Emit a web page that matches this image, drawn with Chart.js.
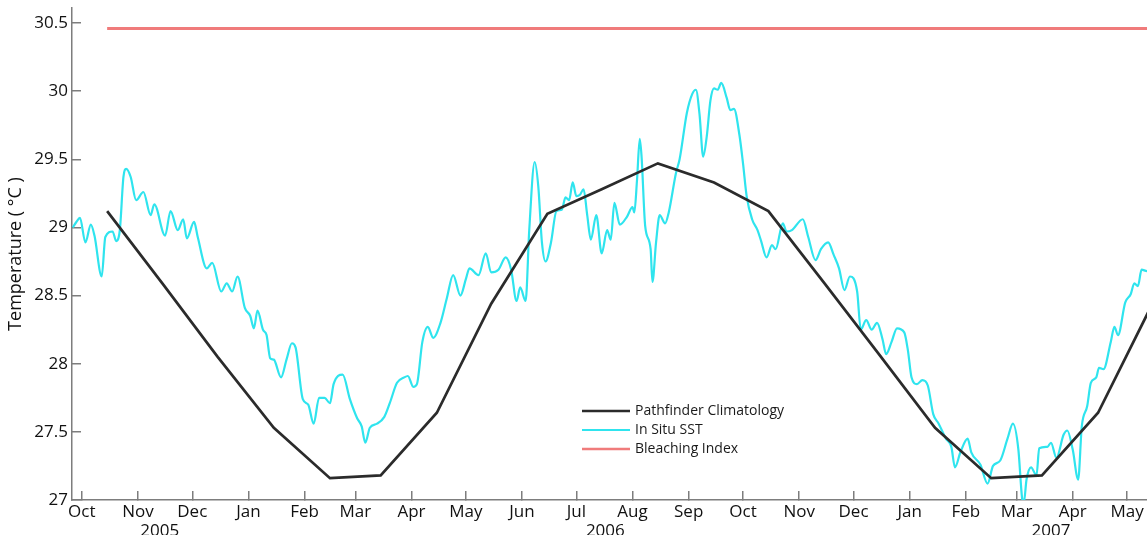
<!DOCTYPE html>
<html>
<head>
<meta charset="utf-8">
<script src="https://cdn.jsdelivr.net/npm/chart.js@4.4.0/dist/chart.umd.min.js"></script>
<style>
  html, body { margin: 0; padding: 0; background: #fff; }
  #wrap { width: 1147px; height: 535px; position: relative; }
</style>
</head>
<body>
<div id="wrap"><canvas id="sstChart"></canvas></div>
<script>
// days counted from 1 Oct 2005
const monthDays = [0, 31, 61, 92, 123, 151, 182, 212, 243, 273, 304, 335, 365, 396, 426, 457, 488, 516, 547, 577];
const monthLabels = ['Oct', 'Nov', 'Dec', 'Jan', 'Feb', 'Mar', 'Apr', 'May', 'Jun', 'Jul', 'Aug', 'Sep', 'Oct', 'Nov', 'Dec', 'Jan', 'Feb', 'Mar', 'Apr', 'May'];
const yearDays = [43, 289, 535];
const yearLabels = ['2005', '2006', '2007'];
const yTicks = [27, 27.5, 28, 28.5, 29, 29.5, 30, 30.5];

const climDays = [14, 45, 75, 106, 137, 165, 196, 226, 257, 287, 318, 349, 379, 410, 440, 471, 502, 530, 561, 591];
const climTemp = [29.12, 28.58, 28.05, 27.53, 27.16, 27.18, 27.64, 28.44, 29.10, 29.28, 29.47, 29.33, 29.12, 28.59, 28.07, 27.53, 27.16, 27.18, 27.64, 28.44];

const sstDays = [-5, -3, -1, 2, 5, 7, 11, 13, 17, 19, 21, 23, 24.5, 27, 30, 34, 38, 40, 46, 49,
  53, 56, 58, 62, 64, 69, 72, 77, 80, 83, 86, 90, 93, 95, 97, 100, 102, 104, 106, 110,
  113, 116, 118, 122, 125, 128, 131, 134, 137, 139, 144, 148, 152, 154.5, 156.5, 159, 163, 167, 170, 174,
  178, 180, 183, 185, 188, 191, 194, 198, 201.5, 205, 209, 212, 214, 219, 223, 226, 230, 234, 237, 240,
  242, 245, 247, 250, 252, 254, 256, 259, 262, 265, 267, 269, 271, 273, 275, 277, 279, 281, 284, 287,
  290, 292, 294, 297, 301, 304, 305, 306.5, 308, 309, 311, 314, 315, 317, 319, 322, 324, 328, 330, 334,
  337, 339, 341, 343, 345, 347, 349, 351, 353, 356, 358, 360, 363, 365, 367, 370, 373, 375, 378, 381,
  383, 387, 389, 392, 398, 401, 405, 408, 412, 415, 418, 421, 424, 428, 430, 433, 436, 439, 442, 444,
  447, 450, 454, 456, 458, 461, 464, 467, 470, 473, 477, 480, 482, 485, 489, 491, 496, 500, 503, 507,
  511, 514, 517, 519, 520, 521.5, 524, 527, 528.5, 533, 535, 538, 542, 544, 547, 550, 552, 555, 557, 560,
  561.5, 564, 568, 570, 572, 576, 579, 581, 583, 585, 588, 591];
const sstTemp = [29.00, 29.04, 29.07, 28.89, 29.02, 28.94, 28.64, 28.93, 28.97, 28.90, 28.98, 29.37, 29.43, 29.37, 29.20, 29.26, 29.09, 29.17, 28.94, 29.12,
  28.98, 29.06, 28.92, 29.04, 28.93, 28.70, 28.74, 28.53, 28.59, 28.53, 28.64, 28.41, 28.35, 28.26, 28.39, 28.25, 28.21, 28.04, 28.03, 27.90,
  28.03, 28.15, 28.12, 27.74, 27.70, 27.56, 27.75, 27.75, 27.71, 27.85, 27.92, 27.74, 27.60, 27.54, 27.42, 27.53, 27.56, 27.61, 27.71, 27.86,
  27.90, 27.91, 27.83, 27.85, 28.16, 28.27, 28.19, 28.30, 28.48, 28.65, 28.50, 28.62, 28.70, 28.65, 28.81, 28.67, 28.69, 28.78, 28.69, 28.46,
  28.56, 28.46, 28.98, 29.48, 29.30, 28.89, 28.75, 28.89, 29.12, 29.13, 29.22, 29.20, 29.33, 29.23, 29.24, 29.28, 29.09, 28.91, 29.09, 28.81,
  28.98, 28.91, 29.18, 29.02, 29.08, 29.15, 29.11, 29.35, 29.65, 29.52, 29.01, 28.84, 28.60, 28.89, 29.09, 29.03, 29.11, 29.40, 29.50, 29.84,
  29.98, 30.01, 29.83, 29.52, 29.67, 29.93, 30.02, 30.01, 30.06, 29.95, 29.86, 29.87, 29.68, 29.47, 29.23, 29.06, 28.98, 28.90, 28.78, 28.87,
  28.84, 29.03, 28.97, 28.98, 29.06, 28.93, 28.76, 28.84, 28.89, 28.80, 28.70, 28.54, 28.64, 28.53, 28.25, 28.32, 28.25, 28.30, 28.18, 28.07,
  28.16, 28.26, 28.23, 28.10, 27.90, 27.85, 27.88, 27.84, 27.63, 27.56, 27.45, 27.39, 27.24, 27.35, 27.45, 27.35, 27.26, 27.12, 27.25, 27.29,
  27.45, 27.56, 27.37, 27.02, 26.98, 27.15, 27.24, 27.18, 27.38, 27.39, 27.42, 27.31, 27.48, 27.51, 27.37, 27.15, 27.54, 27.69, 27.86, 27.90,
  27.97, 27.96, 28.16, 28.27, 28.21, 28.45, 28.51, 28.59, 28.57, 28.69, 28.68, 28.70];

const bleachDays = [14, 600];
const bleachTemp = [30.46, 30.46];

const xMin = -5.4;
const xMax = 588;

const toPoints = (xs, ys) => xs.map((x, i) => ({ x, y: ys[i] }));

Chart.defaults.font.family = '"Open Sans", sans-serif';
Chart.defaults.color = '#111';

const axisGray = '#7d7d7d';

// legend drawn inside the plot area, lower middle
const insideLegend = {
    id: 'insideLegend',
    afterDraw(chart) {
        const ctx = chart.ctx;
        const x0 = 582, len = 48, y0 = 411, gap = 19;
        ctx.save();
        ctx.font = '14px "Open Sans", sans-serif';
        ctx.textBaseline = 'middle';
        ctx.fillStyle = '#1a1a1a';
        chart.data.datasets.forEach((ds, i) => {
            const y = y0 + i * gap;
            ctx.strokeStyle = ds.borderColor;
            ctx.lineWidth = Math.min(ds.borderWidth, 2.5);
            ctx.beginPath();
            ctx.moveTo(x0, y);
            ctx.lineTo(x0 + len, y);
            ctx.stroke();
            ctx.fillText(ds.label, x0 + len + 5, y + 0.5);
        });
        ctx.restore();
    }
};

const ctx = document.getElementById('sstChart').getContext('2d');
new Chart(ctx, {
    type: 'line',
    data: {
        datasets: [
            {
                label: 'Pathfinder Climatology',
                data: toPoints(climDays, climTemp),
                borderColor: '#2b2b2b',
                borderWidth: 2.7,
                pointRadius: 0,
                tension: 0
            },
            {
                label: 'In Situ SST',
                data: toPoints(sstDays, sstTemp),
                borderColor: '#2fe4ee',
                borderWidth: 2.2,
                pointRadius: 0,
                cubicInterpolationMode: 'monotone'
            },
            {
                label: 'Bleaching Index',
                data: toPoints(bleachDays, bleachTemp),
                borderColor: '#f07b7b',
                borderWidth: 3,
                pointRadius: 0
            }
        ]
    },
    options: {
        responsive: true,
        maintainAspectRatio: false,
        animation: false,
        layout: { padding: { top: 8, left: 0, right: 0, bottom: 0 } },
        plugins: {
            legend: { display: false },
            tooltip: { enabled: false }
        },
        scales: {
            x: {
                type: 'linear',
                position: 'bottom',
                weight: 0,
                min: xMin,
                max: xMax,
                afterBuildTicks: s => { s.ticks = monthDays.map(v => ({ value: v })); },
                afterFit: s => { s.height = 22; s.paddingLeft = 0; s.paddingRight = 0; },
                ticks: {
                    callback: v => monthLabels[monthDays.indexOf(v)],
                    autoSkip: false,
                    maxRotation: 0,
                    padding: 11,
                    font: { size: 17 }
                },
                grid: { drawOnChartArea: false, tickLength: -9, color: axisGray, lineWidth: 1.5 },
                border: { color: axisGray, width: 1.5 }
            },
            years: {
                type: 'linear',
                axis: 'x',
                position: 'bottom',
                weight: 1,
                min: xMin,
                max: xMax,
                afterBuildTicks: s => { s.ticks = yearDays.map(v => ({ value: v })); },
                afterFit: s => { s.height = 13; s.paddingLeft = 0; s.paddingRight = 0; },
                ticks: {
                    callback: v => yearLabels[yearDays.indexOf(v)],
                    autoSkip: false,
                    maxRotation: 0,
                    padding: -1,
                    font: { size: 17 }
                },
                grid: { display: false, drawTicks: false },
                border: { display: false }
            },
            y: {
                type: 'linear',
                min: 27,
                max: 30.61,
                afterBuildTicks: s => { s.ticks = yTicks.map(v => ({ value: v })); },
                afterFit: s => { s.width = 72; s.paddingTop = 0; s.paddingBottom = 0; },
                ticks: {
                    callback: v => String(v),
                    padding: 13,
                    font: { size: 17 }
                },
                grid: { drawOnChartArea: false, tickLength: -9, color: axisGray, lineWidth: 1.5 },
                border: { color: axisGray, width: 1.5 },
                title: {
                    display: true,
                    text: 'Temperature ( °C )',
                    font: { size: 18 },
                    padding: { top: 5, bottom: 0 }
                }
            }
        }
    },
    plugins: [insideLegend]
});
</script>
</body>
</html>
